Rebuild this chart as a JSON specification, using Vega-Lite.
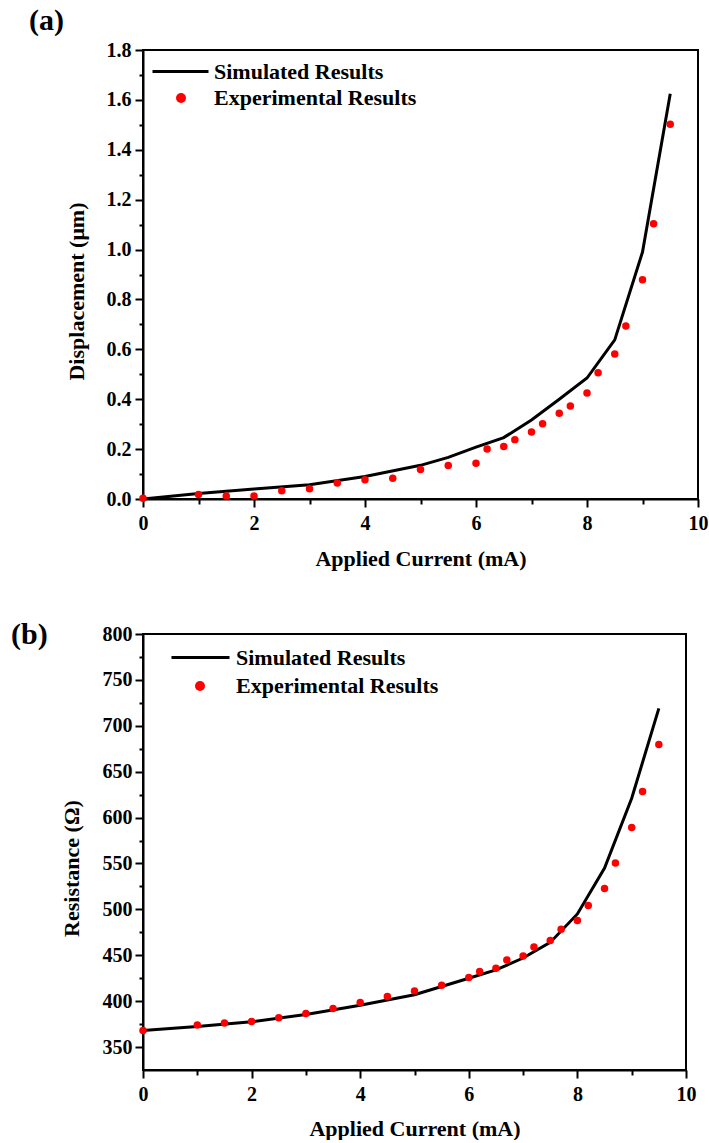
{
  "$schema": "https://vega.github.io/schema/vega-lite/v6.json",
  "background": "white",
  "padding": {"left": 10, "top": 5, "right": 5, "bottom": 0},
  "config": {
    "font": "Liberation Serif",
    "view": {"stroke": "black", "strokeWidth": 2},
    "axis": {
      "labelFont": "Liberation Serif", "labelFontWeight": "bold", "labelFontSize": 20, "labelColor": "black",
      "titleFont": "Liberation Serif", "titleFontWeight": "bold", "titleFontSize": 22, "titleColor": "black",
      "domainColor": "black", "domainWidth": 2, "tickColor": "black", "tickWidth": 2, "grid": false, "labelFlush": false
    },
    "legend": {"labelFont": "Liberation Serif", "labelFontWeight": "bold", "labelFontSize": 22, "labelColor": "black", "padding": 0, "labelLimit": 400}
  },
  "datasets": {
    "a": [
      {"current": 0, "value": 0, "series": "Simulated Results"},
      {"current": 1, "value": 0.022, "series": "Simulated Results"},
      {"current": 2, "value": 0.04, "series": "Simulated Results"},
      {"current": 3, "value": 0.057, "series": "Simulated Results"},
      {"current": 4, "value": 0.09, "series": "Simulated Results"},
      {"current": 5, "value": 0.135, "series": "Simulated Results"},
      {"current": 5.5, "value": 0.167, "series": "Simulated Results"},
      {"current": 6, "value": 0.208, "series": "Simulated Results"},
      {"current": 6.5, "value": 0.246, "series": "Simulated Results"},
      {"current": 7, "value": 0.317, "series": "Simulated Results"},
      {"current": 7.5, "value": 0.4, "series": "Simulated Results"},
      {"current": 8, "value": 0.485, "series": "Simulated Results"},
      {"current": 8.5, "value": 0.638, "series": "Simulated Results"},
      {"current": 9, "value": 0.99, "series": "Simulated Results"},
      {"current": 9.5, "value": 1.625, "series": "Simulated Results"},
      {"current": 0, "value": 0.003, "series": "Experimental Results"},
      {"current": 1, "value": 0.018, "series": "Experimental Results"},
      {"current": 1.5, "value": 0.012, "series": "Experimental Results"},
      {"current": 2, "value": 0.012, "series": "Experimental Results"},
      {"current": 2.5, "value": 0.033, "series": "Experimental Results"},
      {"current": 3, "value": 0.041, "series": "Experimental Results"},
      {"current": 3.5, "value": 0.064, "series": "Experimental Results"},
      {"current": 4, "value": 0.077, "series": "Experimental Results"},
      {"current": 4.5, "value": 0.083, "series": "Experimental Results"},
      {"current": 5, "value": 0.118, "series": "Experimental Results"},
      {"current": 5.5, "value": 0.134, "series": "Experimental Results"},
      {"current": 6, "value": 0.143, "series": "Experimental Results"},
      {"current": 6.2, "value": 0.2, "series": "Experimental Results"},
      {"current": 6.5, "value": 0.21, "series": "Experimental Results"},
      {"current": 6.7, "value": 0.238, "series": "Experimental Results"},
      {"current": 7, "value": 0.269, "series": "Experimental Results"},
      {"current": 7.2, "value": 0.302, "series": "Experimental Results"},
      {"current": 7.5, "value": 0.344, "series": "Experimental Results"},
      {"current": 7.7, "value": 0.373, "series": "Experimental Results"},
      {"current": 8, "value": 0.425, "series": "Experimental Results"},
      {"current": 8.2, "value": 0.506, "series": "Experimental Results"},
      {"current": 8.5, "value": 0.581, "series": "Experimental Results"},
      {"current": 8.7, "value": 0.694, "series": "Experimental Results"},
      {"current": 9, "value": 0.879, "series": "Experimental Results"},
      {"current": 9.2, "value": 1.103, "series": "Experimental Results"},
      {"current": 9.5, "value": 1.502, "series": "Experimental Results"}
    ],
    "b": [
      {"current": 0, "value": 368, "series": "Simulated Results"},
      {"current": 1, "value": 372.5, "series": "Simulated Results"},
      {"current": 2, "value": 377.5, "series": "Simulated Results"},
      {"current": 3, "value": 385.5, "series": "Simulated Results"},
      {"current": 4, "value": 395.5, "series": "Simulated Results"},
      {"current": 5, "value": 407, "series": "Simulated Results"},
      {"current": 5.5, "value": 416, "series": "Simulated Results"},
      {"current": 6, "value": 425, "series": "Simulated Results"},
      {"current": 6.5, "value": 434, "series": "Simulated Results"},
      {"current": 7, "value": 447, "series": "Simulated Results"},
      {"current": 7.5, "value": 464, "series": "Simulated Results"},
      {"current": 8, "value": 495, "series": "Simulated Results"},
      {"current": 8.5, "value": 545, "series": "Simulated Results"},
      {"current": 9, "value": 621, "series": "Simulated Results"},
      {"current": 9.5, "value": 719, "series": "Simulated Results"},
      {"current": 0, "value": 368.1, "series": "Experimental Results"},
      {"current": 1, "value": 373.9, "series": "Experimental Results"},
      {"current": 1.5, "value": 376.1, "series": "Experimental Results"},
      {"current": 2, "value": 377.9, "series": "Experimental Results"},
      {"current": 2.5, "value": 381.9, "series": "Experimental Results"},
      {"current": 3, "value": 386.6, "series": "Experimental Results"},
      {"current": 3.5, "value": 392, "series": "Experimental Results"},
      {"current": 4, "value": 398.6, "series": "Experimental Results"},
      {"current": 4.5, "value": 405.1, "series": "Experimental Results"},
      {"current": 5, "value": 411.2, "series": "Experimental Results"},
      {"current": 5.5, "value": 417.4, "series": "Experimental Results"},
      {"current": 6, "value": 425.8, "series": "Experimental Results"},
      {"current": 6.2, "value": 432.3, "series": "Experimental Results"},
      {"current": 6.5, "value": 435.9, "series": "Experimental Results"},
      {"current": 6.7, "value": 444.9, "series": "Experimental Results"},
      {"current": 7, "value": 449.2, "series": "Experimental Results"},
      {"current": 7.2, "value": 459, "series": "Experimental Results"},
      {"current": 7.5, "value": 466, "series": "Experimental Results"},
      {"current": 7.7, "value": 478.3, "series": "Experimental Results"},
      {"current": 8, "value": 488, "series": "Experimental Results"},
      {"current": 8.2, "value": 504.3, "series": "Experimental Results"},
      {"current": 8.5, "value": 522.8, "series": "Experimental Results"},
      {"current": 8.7, "value": 550.5, "series": "Experimental Results"},
      {"current": 9, "value": 589.1, "series": "Experimental Results"},
      {"current": 9.2, "value": 628.3, "series": "Experimental Results"},
      {"current": 9.5, "value": 679.7, "series": "Experimental Results"}
    ]
  },
  "spacing": 49,
  "resolve": {"scale": {"stroke": "independent", "fill": "independent"}, "legend": {"stroke": "independent", "fill": "independent"}},
  "vconcat": [
    {
      "width": 555,
      "height": 449,
      "title": {"text": "(a)", "anchor": "start", "frame": "bounds", "fontSize": 30, "fontWeight": "bold", "font": "Liberation Serif", "color": "black", "dx": -36, "offset": 4},
      "data": {"name": "a"},
      "resolve": {"axis": {"x": "independent", "y": "independent"}},
      "layer": [
        {
          "transform": [{"filter": "datum.series === 'Simulated Results'"}],
          "mark": {"type": "line", "strokeWidth": 3},
          "encoding": {
            "x": {"field": "current", "type": "quantitative", "scale": {"domain": [0, 10], "nice": false, "zero": false},
                  "axis": {"orient": "bottom", "values": [0, 2, 4, 6, 8, 10], "tickSize": 8, "labelPadding": 6, "labelFlush": false, "title": "Applied Current (mA)", "titlePadding": 15}},
            "y": {"field": "value", "type": "quantitative", "scale": {"domain": [0, 1.8], "nice": false},
                  "axis": {"orient": "left", "values": [0, 0.2, 0.4, 0.6, 0.8, 1.0, 1.2, 1.4, 1.6, 1.8], "format": ".1f", "tickSize": 8, "labelPadding": 4, "title": "Displacement (μm)", "titlePadding": 18, "titleY": 241}},
            "stroke": {"field": "series", "type": "nominal", "scale": {"range": ["black"]},
                       "legend": {"title": null, "orient": "none", "legendX": 8, "legendY": -8, "symbolType": "stroke", "symbolSize": 3136, "symbolStrokeWidth": 3, "labelOffset": 4}}
          }
        },
        {
          "transform": [{"filter": "datum.series === 'Experimental Results'"}],
          "mark": {"type": "point", "filled": true, "size": 56, "opacity": 1},
          "encoding": {
            "x": {"field": "current", "type": "quantitative", "scale": {"domain": [0, 10], "nice": false, "zero": false},
                  "axis": {"orient": "bottom", "values": [1, 3, 5, 7, 9], "tickSize": 5, "labels": false, "domain": false, "title": null}},
            "y": {"field": "value", "type": "quantitative", "scale": {"domain": [0, 1.8], "nice": false},
                  "axis": {"orient": "left", "values": [0.1, 0.3, 0.5, 0.7, 0.9, 1.1, 1.3, 1.5, 1.7], "tickSize": 4, "labels": false, "domain": false, "title": null}},
            "fill": {"field": "series", "type": "nominal", "scale": {"range": ["#ff0000"]},
                     "legend": {"title": null, "orient": "none", "legendX": 27, "legendY": 37, "symbolType": "circle", "symbolSize": 100, "labelOffset": 22}}
          }
        }
      ]
    },
    {
      "width": 543,
      "height": 436,
      "title": {"text": "(b)", "anchor": "start", "frame": "bounds", "fontSize": 30, "fontWeight": "bold", "font": "Liberation Serif", "color": "black", "dx": -49, "offset": -26},
      "data": {"name": "b"},
      "resolve": {"axis": {"x": "independent", "y": "independent"}},
      "layer": [
        {
          "transform": [{"filter": "datum.series === 'Simulated Results'"}],
          "mark": {"type": "line", "strokeWidth": 3},
          "encoding": {
            "x": {"field": "current", "type": "quantitative", "scale": {"domain": [0, 10], "nice": false, "zero": false},
                  "axis": {"orient": "bottom", "values": [0, 2, 4, 6, 8, 10], "tickSize": 8, "labelPadding": 6, "labelFlush": false, "title": "Applied Current (mA)", "titlePadding": 14}},
            "y": {"field": "value", "type": "quantitative", "scale": {"domain": [325, 800], "nice": false, "zero": false},
                  "axis": {"orient": "left", "values": [350, 400, 450, 500, 550, 600, 650, 700, 750, 800], "tickSize": 8, "labelPadding": 3, "title": "Resistance (Ω)", "titlePadding": 19, "titleY": 234}},
            "stroke": {"field": "series", "type": "nominal", "scale": {"range": ["black"]},
                       "legend": {"title": null, "orient": "none", "legendX": 27, "legendY": -7, "symbolType": "stroke", "symbolSize": 3364, "symbolStrokeWidth": 3, "labelOffset": 5}}
          }
        },
        {
          "transform": [{"filter": "datum.series === 'Experimental Results'"}],
          "mark": {"type": "point", "filled": true, "size": 56, "opacity": 1},
          "encoding": {
            "x": {"field": "current", "type": "quantitative", "scale": {"domain": [0, 10], "nice": false, "zero": false},
                  "axis": {"orient": "bottom", "values": [1, 3, 5, 7, 9], "tickSize": 5, "labels": false, "domain": false, "title": null}},
            "y": {"field": "value", "type": "quantitative", "scale": {"domain": [325, 800], "nice": false, "zero": false},
                  "axis": {"orient": "left", "values": [375, 425, 475, 525, 575, 625, 675, 725, 775], "tickSize": 4, "labels": false, "domain": false, "title": null}},
            "fill": {"field": "series", "type": "nominal", "scale": {"range": ["#ff0000"]},
                     "legend": {"title": null, "orient": "none", "legendX": 46, "legendY": 41, "symbolType": "circle", "symbolSize": 100, "labelOffset": 25}}
          }
        }
      ]
    }
  ]
}
